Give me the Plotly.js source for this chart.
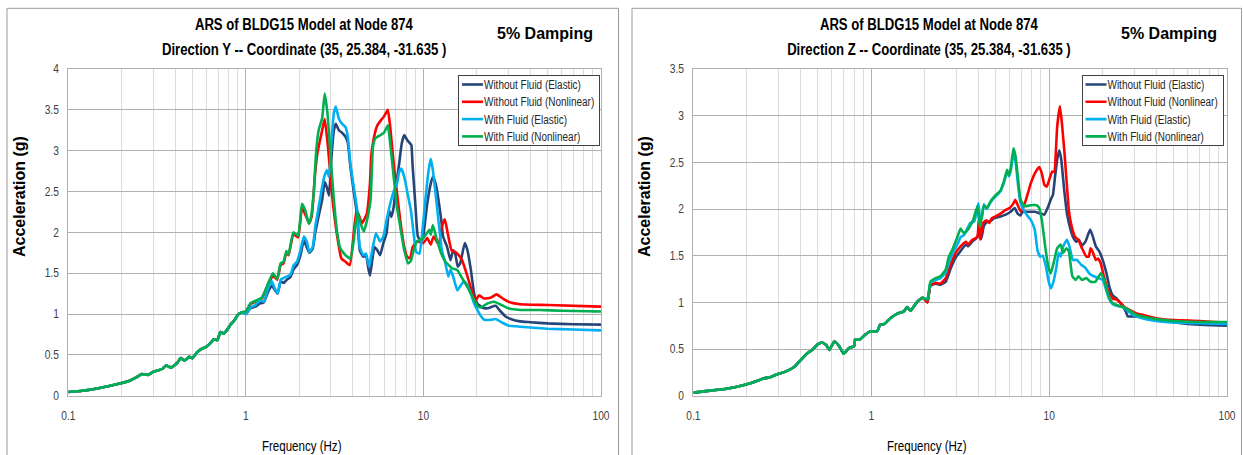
<!DOCTYPE html>
<html><head><meta charset="utf-8">
<script src="https://cdn.plot.ly/plotly-3.0.1.min.js"></script>
<style>html,body{margin:0;padding:0;background:#fff}#chart{width:1243px;height:455px}</style>
</head><body><div id="chart"></div>
<script>
// ---------- Series names / colours ----------
const seriesNames = ['Without Fluid (Elastic)', 'Without Fluid (Nonlinear)', 'With Fluid (Elastic)', 'With Fluid (Nonlinear)'];
const seriesColors = ['#264478', '#FF0000', '#00B0F0', '#00B050'];
const xTickVals = [0.1, 1, 10, 100];

// ---------- Direction Y (left panel) ----------
// shared low-frequency part (all four curves coincide)
const yLowFreq = [0.1,0.12,0.15,0.17,0.2,0.22,0.24,0.26,0.28,0.3,0.32,0.34,0.355,0.38,0.41,0.43,0.45,0.48,0.5,0.53,0.56,0.6,0.63,0.66,0.69,0.72,0.75,0.78,0.82,0.86,0.9,0.95];
const yLowAcc  = [0.045,0.06,0.095,0.12,0.155,0.18,0.22,0.265,0.255,0.29,0.31,0.33,0.37,0.345,0.40,0.46,0.43,0.475,0.46,0.53,0.57,0.60,0.64,0.69,0.68,0.78,0.76,0.80,0.87,0.92,0.99,1.02];

const yWoElasticFreq = [1.0,1.06,1.13,1.2,1.26,1.34,1.4,1.45,1.51,1.57,1.63,1.7,1.78,1.86,1.94,2.03,2.12,2.2,2.28,2.38,2.46,2.57,2.69,2.78,2.86,2.94,3.03,3.13,3.21,3.34,3.48,3.64,3.75,3.88,4.05,4.24,4.38,4.58,4.75,4.9,5.0,5.15,5.3,5.5,5.7,5.95,6.2,6.4,6.6,6.8,7.0,7.3,7.55,7.8,8.1,8.4,8.55,8.7,9.0,9.3,9.7,10.0,10.5,11.0,11.3,11.7,12.0,12.6,12.9,13.2,13.6,14.2,14.7,15.1,15.6,16.1,17.1,17.7,18.5,19.3,20.1,21.4,23.0,25.5,27.0,29.0,31.0,35.0,40,50,70,100];
const yWoElasticAcc  = [1.0,1.07,1.09,1.13,1.14,1.28,1.35,1.30,1.25,1.40,1.38,1.42,1.45,1.55,1.60,1.72,1.90,1.82,1.75,1.80,2.0,2.2,2.4,2.62,2.55,2.45,2.9,3.25,3.33,3.25,3.22,3.17,3.1,2.8,2.5,2.2,1.78,1.70,1.72,1.55,1.47,1.66,1.82,1.78,1.72,1.87,1.99,2.27,2.19,2.31,2.56,2.84,3.09,3.19,3.13,3.09,3.07,2.80,2.35,1.95,1.89,1.97,2.35,2.6,2.68,2.6,2.48,2.15,1.95,1.89,1.82,1.66,1.78,1.74,1.58,1.62,1.87,1.78,1.54,1.25,1.13,1.08,1.07,1.10,1.04,0.97,0.94,0.91,0.90,0.885,0.875,0.87];

const yWoNonlinFreq = [1.0,1.06,1.155,1.23,1.28,1.35,1.42,1.5,1.57,1.63,1.69,1.74,1.85,1.97,2.07,2.16,2.27,2.35,2.45,2.52,2.6,2.69,2.78,2.9,3.05,3.27,3.45,3.64,3.85,4.05,4.2,4.33,4.5,4.8,5.0,5.1,5.35,5.5,5.8,6.0,6.3,6.5,6.8,7.1,7.4,7.8,8.1,8.4,8.7,9.2,10.0,10.5,11.0,11.4,12.2,12.7,13.2,13.7,14.4,15.1,15.8,16.5,17.7,18.9,19.7,20.6,21.9,23.9,25.8,28,31,35,50,100];
const yWoNonlinAcc  = [1.03,1.12,1.16,1.19,1.26,1.38,1.47,1.42,1.60,1.62,1.75,1.72,1.98,1.94,2.30,2.22,2.11,2.2,2.7,2.95,3.1,3.25,3.39,3.05,2.48,1.95,1.68,1.64,1.60,1.99,2.27,2.21,2.11,2.23,2.6,2.97,3.23,3.31,3.38,3.42,3.50,3.29,2.84,2.48,2.15,1.82,1.70,1.68,1.82,1.89,1.87,1.93,1.85,1.95,1.85,2.07,2.16,1.99,1.78,1.76,1.72,1.66,1.46,1.25,1.17,1.23,1.19,1.2,1.24,1.19,1.14,1.12,1.11,1.09];

const yWElasticFreq = [1.0,1.06,1.13,1.2,1.26,1.34,1.4,1.45,1.51,1.57,1.63,1.7,1.78,1.86,1.94,2.03,2.12,2.2,2.28,2.38,2.46,2.57,2.69,2.78,2.86,2.94,3.03,3.13,3.21,3.34,3.48,3.64,3.75,3.88,4.05,4.24,4.38,4.58,4.75,4.94,5.15,5.4,5.7,5.95,6.2,6.5,6.8,7.1,7.3,7.5,7.8,8.1,8.5,8.8,9.1,9.5,9.8,10.3,10.7,11.0,11.3,11.7,12.2,12.7,13.3,13.8,14.2,14.7,15.5,16.0,16.9,17.6,18.5,19.3,19.9,21,22,24,25.5,28,30,35,50,70,100];
const yWElasticAcc  = [1.0,1.08,1.11,1.17,1.15,1.33,1.40,1.32,1.25,1.42,1.44,1.46,1.48,1.60,1.64,1.78,1.95,1.89,1.76,1.82,2.07,2.31,2.56,2.70,2.76,2.68,3.09,3.46,3.54,3.39,3.33,3.29,3.17,2.84,2.56,2.27,1.82,1.72,1.74,1.58,1.78,1.99,1.89,1.95,2.15,2.35,2.5,2.6,2.74,2.78,2.68,2.5,2.27,1.99,1.76,1.74,1.95,2.44,2.76,2.9,2.76,2.48,2.11,1.78,1.62,1.46,1.54,1.46,1.29,1.33,1.40,1.36,1.25,1.13,1.07,0.98,0.93,0.93,0.94,0.89,0.86,0.845,0.82,0.81,0.80];

const yWNonlinFreq = [1.0,1.06,1.155,1.23,1.28,1.35,1.42,1.5,1.57,1.63,1.69,1.74,1.85,1.97,2.07,2.16,2.26,2.31,2.41,2.49,2.57,2.69,2.78,2.88,3.0,3.13,3.27,3.41,3.64,3.88,4.05,4.24,4.42,4.62,4.86,5.04,5.2,5.35,5.5,5.73,6.0,6.3,6.5,6.8,7.1,7.4,7.8,8.2,8.5,8.8,9.2,10.0,10.8,11.0,11.3,11.9,12.6,13.3,14.5,15.5,16.3,17.7,18.9,20.1,21,23,25,27,30,35,45,60,100];
const yWNonlinAcc  = [1.03,1.13,1.17,1.2,1.28,1.40,1.50,1.43,1.62,1.64,1.77,1.73,2.0,1.96,2.35,2.27,2.11,2.15,2.48,3.0,3.25,3.40,3.70,3.46,2.93,2.40,1.99,1.80,1.72,1.68,1.9,2.25,2.11,2.01,2.19,2.4,3.05,3.15,3.17,3.19,3.22,3.31,3.09,2.68,2.31,2.07,1.78,1.62,1.65,1.78,1.89,1.93,2.03,1.97,2.09,1.91,1.74,1.64,1.56,1.54,1.46,1.33,1.21,1.10,1.08,1.13,1.15,1.12,1.07,1.05,1.05,1.04,1.03];

// ---------- Direction Z (right panel) ----------
const zLowFreq = [0.1,0.124,0.154,0.183,0.2,0.227,0.25,0.27,0.295,0.33,0.37,0.4,0.44,0.465,0.5,0.53,0.56,0.58,0.62,0.66,0.7,0.75,0.8,0.81,0.86,0.92,0.99,1.08,1.12,1.19,1.28,1.4,1.52,1.59,1.66,1.82,1.95];
const zLowAcc  = [0.033,0.054,0.075,0.104,0.122,0.157,0.186,0.197,0.23,0.258,0.31,0.38,0.46,0.49,0.55,0.57,0.54,0.49,0.58,0.53,0.45,0.51,0.53,0.60,0.60,0.65,0.69,0.69,0.76,0.77,0.83,0.88,0.90,0.95,0.91,1.01,1.05];

const zWoElasticFreq = [2.07,2.15,2.3,2.45,2.62,2.79,2.98,3.18,3.4,3.5,3.7,3.95,4.05,4.15,4.3,4.46,4.68,4.9,5.33,5.7,6.07,6.4,6.65,6.9,7.1,7.6,8.3,8.96,9.4,9.9,10.2,10.5,10.8,11.1,11.4,11.7,12.1,12.6,13.2,13.7,14.2,14.7,15.3,16.0,17.0,17.5,18.3,19.1,20.0,21.0,21.8,22.7,24.0,25.3,27.0,27.7,30,35,45,60,100];
const zWoElasticAcc  = [1.00,1.18,1.20,1.19,1.22,1.36,1.48,1.55,1.62,1.60,1.65,1.70,1.78,1.68,1.82,1.86,1.87,1.90,1.92,1.94,1.97,2.01,1.95,1.93,1.97,1.97,1.97,1.95,1.94,2.03,2.1,2.15,2.35,2.53,2.63,2.53,2.24,1.95,1.78,1.69,1.65,1.67,1.61,1.65,1.78,1.72,1.6,1.55,1.455,1.31,1.17,1.08,1.04,0.99,0.90,0.85,0.85,0.84,0.80,0.77,0.75];

const zWoNonlinFreq = [2.07,2.15,2.3,2.45,2.62,2.79,2.98,3.18,3.4,3.5,3.7,3.95,4.02,4.1,4.25,4.45,4.6,4.75,5.0,5.33,5.7,6.0,6.3,6.45,6.7,6.95,7.1,7.3,7.6,7.9,8.3,8.8,9.1,9.4,9.7,10.0,10.4,10.7,10.9,11.1,11.5,11.8,12.2,12.6,12.9,13.4,14.0,14.6,15.3,16.2,16.7,17.1,17.5,18.3,18.8,19.5,20.3,21.4,22.8,24.0,25.3,26.5,28.8,31,33,40,50,70,100];
const zWoNonlinAcc  = [1.00,1.18,1.21,1.20,1.26,1.40,1.53,1.60,1.65,1.62,1.67,1.70,1.88,1.67,1.85,1.88,1.85,1.90,1.92,1.95,1.99,2.01,2.06,2.1,2.03,1.97,2.0,2.06,2.17,2.28,2.38,2.45,2.38,2.26,2.24,2.31,2.4,2.4,2.6,2.88,3.1,2.92,2.6,2.24,1.99,1.81,1.70,1.67,1.58,1.49,1.49,1.58,1.55,1.455,1.47,1.42,1.28,1.13,1.04,1.03,0.99,0.95,0.91,0.88,0.87,0.83,0.81,0.80,0.78];

const zWElasticFreq = [2.07,2.15,2.3,2.45,2.62,2.73,2.85,3.05,3.18,3.32,3.6,3.8,4.0,4.1,4.2,4.3,4.46,4.68,4.9,5.33,5.6,5.8,5.95,6.1,6.3,6.48,6.7,6.91,7.4,7.9,8.3,8.6,8.9,9.2,9.6,9.9,10.2,10.5,11.0,11.3,11.6,12.0,12.6,13.0,13.6,14.3,15.2,16.0,16.8,17.8,19.0,20.0,21.7,22.8,24.3,26,28,30,35,45,60,100];
const zWElasticAcc  = [1.03,1.21,1.24,1.26,1.32,1.42,1.52,1.62,1.70,1.72,1.85,1.87,2.06,1.88,1.92,2.05,2.0,2.07,2.12,2.19,2.3,2.4,2.35,2.42,2.6,2.5,2.24,2.06,1.95,1.88,1.78,1.56,1.49,1.50,1.38,1.24,1.15,1.20,1.38,1.53,1.49,1.60,1.67,1.60,1.455,1.455,1.40,1.37,1.31,1.28,1.26,1.24,1.04,0.98,0.96,0.95,0.90,0.86,0.82,0.79,0.78,0.77];

const zWNonlinFreq = [2.07,2.15,2.3,2.45,2.62,2.73,2.85,3.05,3.18,3.32,3.5,3.75,3.95,4.08,4.3,4.46,4.68,4.9,5.33,5.6,5.8,5.95,6.1,6.3,6.48,6.7,6.91,7.3,7.87,8.5,8.8,9.1,9.5,9.9,10.2,10.6,11.1,11.6,12.0,12.5,12.9,13.5,14.1,14.6,15.3,16.2,17.1,18.2,19.5,20.2,21.7,22.8,24.3,26,28,30,33,40,50,70,100];
const zWNonlinAcc  = [1.03,1.22,1.26,1.28,1.35,1.49,1.56,1.70,1.79,1.74,1.78,1.89,2.03,1.81,2.04,2.01,2.08,2.13,2.2,2.31,2.42,2.36,2.45,2.65,2.56,2.31,2.1,2.03,2.04,2.04,2.01,1.88,1.6,1.38,1.31,1.42,1.58,1.62,1.53,1.58,1.55,1.28,1.24,1.28,1.24,1.26,1.22,1.22,1.31,1.26,1.06,0.99,0.97,0.95,0.92,0.88,0.85,0.82,0.80,0.79,0.79];

// ---------- build traces ----------
const SANS = 'Liberation Sans, Arial, sans-serif';

const leftSets = [
  [yWoElasticFreq, yWoElasticAcc], [yWoNonlinFreq, yWoNonlinAcc],
  [yWElasticFreq, yWElasticAcc], [yWNonlinFreq, yWNonlinAcc]
];
const rightSets = [
  [zWoElasticFreq, zWoElasticAcc], [zWoNonlinFreq, zWoNonlinAcc],
  [zWElasticFreq, zWElasticAcc], [zWNonlinFreq, zWNonlinAcc]
];

const traces = [];
leftSets.forEach((s, i) => {
  traces.push({
    type: 'scatter', mode: 'lines', name: seriesNames[i],
    x: yLowFreq.concat(s[0]), y: yLowAcc.concat(s[1]),
    xaxis: 'x', yaxis: 'y', legend: 'legend',
    line: {color: seriesColors[i], width: 2.6, shape: 'spline', smoothing: 0.4}
  });
});
rightSets.forEach((s, i) => {
  traces.push({
    type: 'scatter', mode: 'lines', name: seriesNames[i],
    x: zLowFreq.concat(s[0]), y: zLowAcc.concat(s[1]),
    xaxis: 'x2', yaxis: 'y2', legend: 'legend2',
    line: {color: seriesColors[i], width: 2.6, shape: 'spline', smoothing: 0.4}
  });
});

// minor grid positions (2..9 within each decade)
const minorVals = [];
[0.1, 1, 10].forEach(d => { for (let k = 2; k <= 9; k++) minorVals.push(+(k * d).toPrecision(3)); });

const W = 1243, H = 455;
const px = v => v / W, py = v => 1 - v / H;

function xAxis(domain, anchor) {
  return {
    type: 'log', range: [-1, 2], domain: domain, anchor: anchor,
    tickvals: xTickVals, ticktext: xTickVals.map(String), ticks: '',
    ticklabelstandoff: 9,
    showgrid: true, gridcolor: '#b0b0b0', gridwidth: 1,
    minor: {tickvals: minorVals, showgrid: true, gridcolor: '#dcdcdc', gridwidth: 1, ticks: ''},
    showline: true, mirror: true, linecolor: '#b0b0b0', linewidth: 1,
    zeroline: false,
    tickfont: {family: SANS, size: 12, color: '#404040'}
  };
}
function yAxis(domain, anchor, maxV) {
  return {
    range: [0, maxV], dtick: 0.5, tick0: 0, domain: domain, anchor: anchor,
    ticks: '', ticklabelstandoff: 6,
    showgrid: true, gridcolor: '#b0b0b0', gridwidth: 1,
    showline: true, mirror: true, linecolor: '#b0b0b0', linewidth: 1,
    zeroline: false,
    tickfont: {family: SANS, size: 12, color: '#404040'}
  };
}

const yDom = [(H - 395.7) / H, (H - 69) / H];

const annotations = [];
function addText(text, x, y, font, angle) {
  annotations.push({text: text, x: px(x), y: py(y), xref: 'paper', yref: 'paper',
    xanchor: 'center', yanchor: 'middle', showarrow: false, font: font, textangle: angle || 0});
}
const titleFont = {family: SANS, size: 16, color: '#000000'};
addText('<b>ARS of BLDG15 Model at Node 874</b>', 304, 24, titleFont);
addText('<b>Direction Y -- Coordinate (35, 25.384, -31.635 )</b>', 304, 49, titleFont);
addText('<b>ARS of BLDG15 Model at Node 874</b>', 929, 24, titleFont);
addText('<b>Direction Z -- Coordinate (35, 25.384, -31.635 )</b>', 929, 49, titleFont);
const dampFont = {family: SANS, size: 16, color: '#000000'};
addText('<b>5% Damping</b>', 545, 34, dampFont);
addText('<b>5% Damping</b>', 1169, 34, dampFont);
const yTitleFont = {family: SANS, size: 16, color: '#000000'};
addText('<b>Acceleration (g)</b>', 19, 197, yTitleFont, -90);
addText('<b>Acceleration (g)</b>', 644, 197, yTitleFont, -90);
const xTitleFont = {family: SANS, size: 15, color: '#000000'};
addText('Frequency (Hz)', 301, 445, xTitleFont);
addText('Frequency (Hz)', 926, 445, xTitleFont);

const shapes = [
  {type: 'rect', xref: 'paper', yref: 'paper', x0: px(7), x1: px(618.5), y0: py(470), y1: py(8.3),
   line: {color: '#9a9a9a', width: 1}, fillcolor: 'rgba(0,0,0,0)', layer: 'below'},
  {type: 'rect', xref: 'paper', yref: 'paper', x0: px(632), x1: px(1241.5), y0: py(470), y1: py(8.3),
   line: {color: '#9a9a9a', width: 1}, fillcolor: 'rgba(0,0,0,0)', layer: 'below'}
];

// final legend boxes (top-left corners, page pixels)
const LEGEND_POS = {legend: [458, 75], legend2: [1081.5, 75]};
const LEGEND_FONT_SIZE = 12;
const legendCommon = {
  xanchor: 'left', yanchor: 'top', bgcolor: '#ffffff', bordercolor: '#404040', borderwidth: 1,
  font: {family: SANS, size: LEGEND_FONT_SIZE, color: '#262626'}, itemwidth: 30, tracegroupgap: 0
};

const layout = {
  width: W, height: H, margin: {l: 0, r: 0, t: 0, b: 0},
  paper_bgcolor: '#ffffff', plot_bgcolor: '#ffffff',
  xaxis: xAxis([68.3 / W, 601 / W], 'y'),
  yaxis: yAxis(yDom, 'x', 4),
  xaxis2: xAxis([693.4 / W, 1227 / W], 'y2'),
  yaxis2: yAxis(yDom, 'x2', 3.5),
  // placed inside the page first, moved to the final spot after compacting
  legend: Object.assign({x: px(LEGEND_POS.legend[0]), y: py(LEGEND_POS.legend[1])}, legendCommon),
  legend2: Object.assign({x: px(1030), y: py(LEGEND_POS.legend2[1])}, legendCommon),
  annotations: annotations, shapes: shapes, showlegend: true
};

// text width measurement (canvas based, independent of render timing)
const measureCtx = document.createElement('canvas').getContext('2d');
function measure(text, cssFont) {
  measureCtx.font = cssFont;
  return measureCtx.measureText(text).width;
}
// narrow (condensed, Calibri-like) look: compress glyphs horizontally
function condense(el, k, cssFont) {
  const len = measure(el.textContent, cssFont) * k;
  el.setAttribute('textLength', len.toFixed(1));
  el.setAttribute('lengthAdjust', 'spacingAndGlyphs');
  return len;
}

// compact legend (short line samples, narrow text, tighter rows)
function tightenLegend(lg) {
  const items = lg.querySelectorAll('g.traces');
  let maxLen = 0;
  items.forEach((it, i) => {
    it.querySelectorAll('text').forEach(tx => {
      maxLen = Math.max(maxLen, condense(tx, 0.83, LEGEND_FONT_SIZE + 'px "Liberation Sans"'));
      tx.setAttribute('x', 25);
    });
    it.querySelectorAll('path').forEach(p => {
      if ((p.getAttribute('d') || '').indexOf('h') > 0) p.setAttribute('d', 'M3,0h21');
    });
    it.setAttribute('transform', 'translate(1,' + (9.5 + i * 17.3).toFixed(1) + ')');
  });
  const bg = lg.querySelector('rect.bg');
  if (bg && items.length && maxLen > 0) {
    bg.setAttribute('width', (1 + 25 + maxLen + 5).toFixed(1));
    bg.setAttribute('height', (9.5 + (items.length - 1) * 17.3 + 9).toFixed(1));
  }
  const key = lg.classList.contains('legend2') ? 'legend2' : 'legend';
  const pos = LEGEND_POS[key];
  lg.setAttribute('transform', 'translate(' + pos[0] + ',' + pos[1] + ')');
}

function finish() {
  const gd = document.getElementById('chart');
  gd.querySelectorAll('text.annotation-text').forEach(t => {
    const s = t.textContent;
    if (s.indexOf('ARS') === 0 || s.indexOf('Direction') === 0) condense(t, 0.82, 'bold 16px "Liberation Sans"');
    if (s.indexOf('Frequency') === 0) condense(t, 0.77, '15px "Liberation Sans"');
  });
  gd.querySelectorAll('g.xtick text, g.x2tick text, g.ytick text, g.y2tick text')
    .forEach(t => condense(t, 0.85, '12px "Liberation Sans"'));
  gd.querySelectorAll('g.legend, g.legend2').forEach(tightenLegend);
}

Plotly.newPlot('chart', traces, layout, {staticPlot: true, displayModeBar: false}).then(() => {
  finish();
  requestAnimationFrame(finish);
  [0, 50, 200, 600].forEach(t => setTimeout(finish, t));
});
</script></body></html>
